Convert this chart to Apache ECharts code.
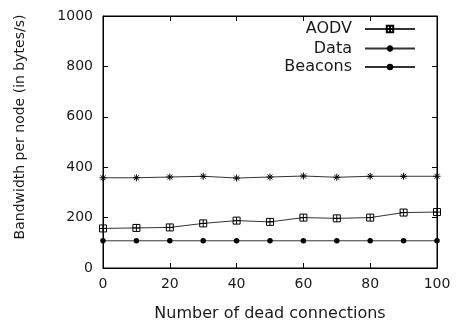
<!DOCTYPE html>
<html><head><meta charset="utf-8">
<script src="https://cdn.jsdelivr.net/npm/echarts@6/dist/echarts.min.js"></script>
<style>html,body{margin:0;padding:0;background:#fff}#c{width:456px;height:322px}</style>
</head><body><div id="c"></div>
<script>
const deadConnections = [0, 10, 20, 30, 40, 50, 60, 70, 80, 90, 100];
const aodv = [157, 159, 161, 177, 188, 183, 200, 197, 200, 220, 222];
const dataTraffic = [358, 358, 361, 364, 357, 361, 365, 360, 364, 364, 364];
const beacons = [108, 108, 108, 108, 108, 108, 108, 108, 108, 108, 108];
const seriesNames = ['AODV', 'Data', 'Beacons'];

const font = 'DejaVu Sans, Liberation Sans, sans-serif';
const ink = '#1a1a1a';
const boxPlus = 'path://M0,0 L10,0 L10,10 L0,10 Z M5,0 L5,10 M0,5 L10,5';
const star = 'path://M0,5 L10,5 M5,0 L5,10 M1.5,1.5 L8.5,8.5 M8.5,1.5 L1.5,8.5';

function pairs(ys) { return deadConnections.map((x, i) => [x, ys[i]]); }

const chart = echarts.init(document.getElementById('c'), null, {renderer: 'canvas'});
function axLine() { return {show: true, onZero: false, lineStyle: {color: '#000', width: 1}}; }
function tick() { return {show: true, inside: true, length: 5, lineStyle: {color: '#000', width: 1}}; }

function legendRow(name, top) {
  return {
    data: [name], right: 40, top: top, padding: 0, align: 'right',
    itemWidth: 50, itemHeight: 8, selectedMode: false,
    textStyle: {fontFamily: font, fontSize: 16, color: ink, padding: [0, 8, 0, 0]}
  };
}

chart.setOption({
  animation: false,
  backgroundColor: '#fff',
  legend: [legendRow('AODV', 21), legendRow('Data', 40.5), legendRow('Beacons', 59)],
  grid: {left: 103, right: 19, top: 16, bottom: 54, show: true, borderColor: '#000', borderWidth: 1,
         containLabel: false, outerBoundsMode: 'none'},
  xAxis: [{
    type: 'value', min: 0, max: 100, interval: 20,
    name: 'Number of dead connections', nameLocation: 'middle', nameGap: 38,
    nameTextStyle: {fontFamily: font, fontSize: 16, color: ink},
    axisLine: axLine(), axisTick: tick(), splitLine: {show: false},
    axisLabel: {fontFamily: font, fontSize: 14, color: ink, margin: 9}
  }, {
    type: 'value', min: 0, max: 100, interval: 20, position: 'top',
    axisLine: axLine(), axisTick: tick(), splitLine: {show: false}, axisLabel: {show: false}
  }],
  yAxis: [{
    type: 'value', min: 0, max: 1000, interval: 200,
    name: 'Bandwidth per node (in bytes/s)', nameLocation: 'middle', nameGap: 76,
    nameTextStyle: {fontFamily: font, fontSize: 14, color: ink, padding: [0, 0, 0, 30]},
    axisLine: axLine(), axisTick: tick(), splitLine: {show: false},
    axisLabel: {fontFamily: font, fontSize: 14, color: ink, margin: 10, formatter: v => String(v)}
  }, {
    type: 'value', min: 0, max: 1000, interval: 200, position: 'right',
    axisLine: axLine(), axisTick: tick(), splitLine: {show: false}, axisLabel: {show: false}
  }],
  series: [{
    name: seriesNames[0], type: 'line', data: pairs(aodv),
    symbol: boxPlus, symbolSize: 7, showAllSymbol: true,
    lineStyle: {color: '#333', width: 1},
    itemStyle: {color: 'none', borderColor: '#000', borderWidth: 1}
  }, {
    name: seriesNames[1], type: 'line', data: pairs(dataTraffic),
    symbol: star, symbolSize: 7, showAllSymbol: true,
    lineStyle: {color: '#333', width: 1},
    itemStyle: {color: 'none', borderColor: '#000', borderWidth: 1}
  }, {
    name: seriesNames[2], type: 'line', data: pairs(beacons),
    symbol: 'circle', symbolSize: 5.5, showAllSymbol: true,
    lineStyle: {color: '#333', width: 1},
    itemStyle: {color: '#000', borderColor: '#000', borderWidth: 0}
  }]
});
</script></body></html>
